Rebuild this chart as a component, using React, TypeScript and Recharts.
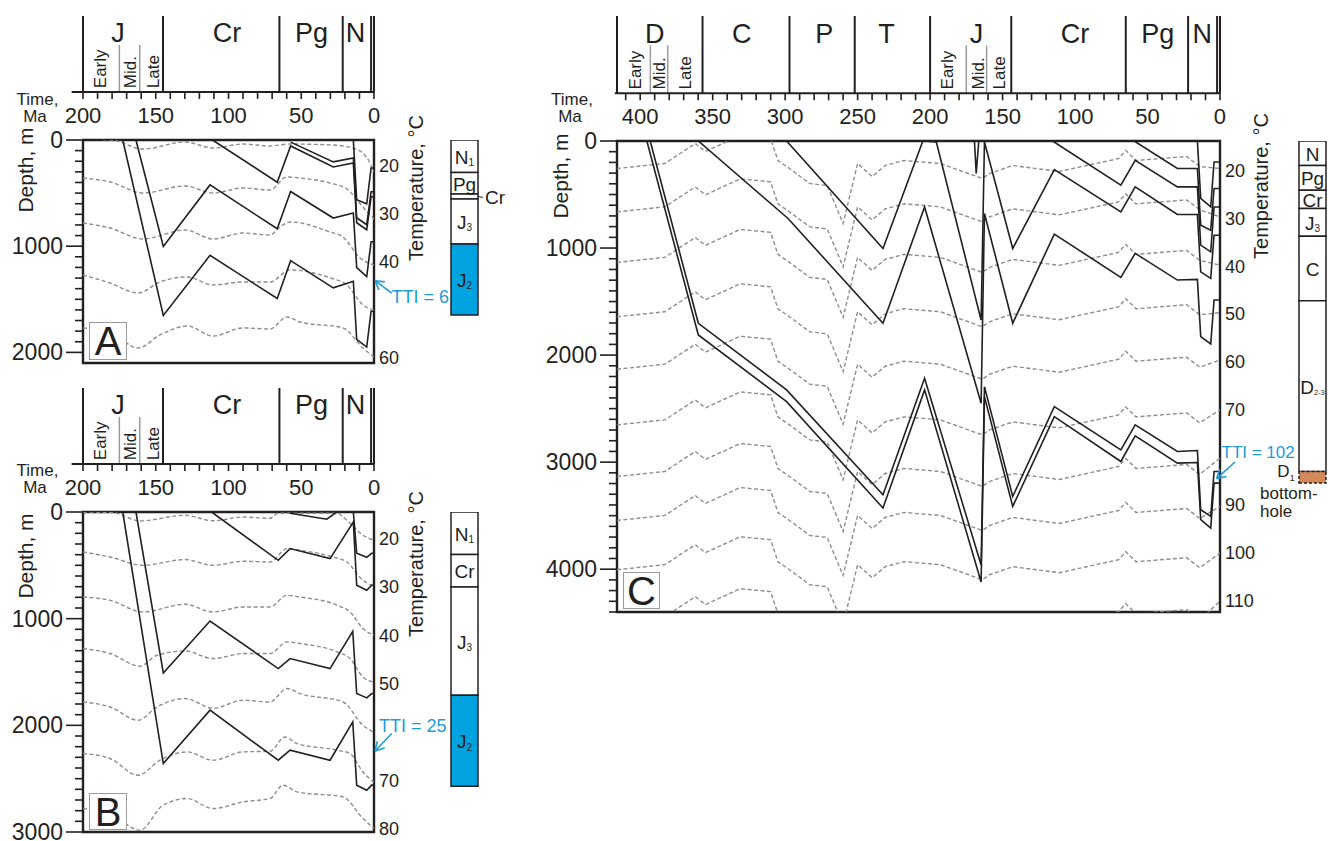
import React from "react";
import {
  ComposedChart,
  Line,
  XAxis,
  YAxis,
  ReferenceLine,
  ReferenceArea,
  Scatter,
  Bar,
  LabelList,
} from "recharts";

type Pt = [number, number];

const FONT = '"Liberation Sans", Arial, Helvetica, sans-serif';
const INK = "#231f20";
const GREY = "#8d8d8d";
const BLUE = "#1e9bd7";

// ---------- geological time scale ----------
const boundsJK = [200, 145, 65, 21.5, 2, 0];
const periodsJK = ["J", "Cr", "Pg", "N"];
const periodAgeJK = [176, 101, 43, 12.7];
const epochBoundsJK = [175, 161];
const epochsJK = ["Early", "Mid.", "Late"];
const epochAgeJK = [188.3, 167.6, 151.5];
const timeLabelsJK = [200, 150, 100, 50, 0];

const boundsC = [416, 357, 297, 252, 200, 144, 65, 22, 2, 0];
const periodsC = ["D", "C", "P", "T", "J", "Cr", "Pg", "N"];
const periodAgeC = [390, 330, 273, 230, 168, 100, 43, 12.2];
const epochBoundsC = [393, 381, 175, 161];
const epochsC = ["Early", "Mid.", "Late", "Early", "Mid.", "Late"];
const epochAgeC = [403.4, 386.7, 368.5, 187.7, 166.8, 152];
const timeLabelsC = [400, 350, 300, 250, 200, 150, 100, 50, 0];

// ---------- panel A: burial curves [age Ma, depth m] ----------
const aHorizon1: Pt[] = [[172.7, 0], [144.8, 1653], [112.7, 1086], [66.5, 1493], [57.3, 1136], [28, 1392], [14.2, 1330], [11.9, 1878], [5, 1950], [2, 1612], [0, 1612]];
const aHorizon2: Pt[] = [[163.6, 0], [144.8, 1002], [112.7, 423], [66.5, 836], [57.3, 485], [28, 735], [14.2, 688], [11.9, 1202], [5, 1286], [2, 958], [0, 958]];
const aHorizon3: Pt[] = [[111, 0], [66.5, 397], [57.3, 56], [28, 254], [14.2, 216], [11.9, 779], [5, 845], [2, 535], [0, 535]];
const aHorizon4: Pt[] = [[57.3, 20], [28, 206], [14.2, 169], [11.9, 732], [5, 798], [2, 488], [0, 488]];
const aHorizon5: Pt[] = [[14.2, 0], [11.9, 563], [5, 601], [2, 263], [0, 263]];

// panel A isotherms 20..60 °C
const aIso20: Pt[] = [[200, -10], [179.4, 2], [158.8, 85], [129.9, 19], [110.7, 75], [90, 38], [71.5, 56], [57.7, 38], [28.2, 47], [14.4, 75], [4.8, 169], [0, 301]];
const aIso30: Pt[] = [[200, 358], [181.4, 395], [158.8, 499], [129.9, 433], [110.7, 499], [90, 452], [71.5, 471], [59.8, 348], [50.9, 358], [30.2, 405], [18.6, 461], [7.6, 631], [0, 744]];
const aIso40: Pt[] = [[200, 782], [181.4, 829], [158.8, 932], [129.9, 847], [110.7, 932], [90, 876], [71.5, 895], [64.6, 819], [57.7, 772], [30.2, 866], [21.3, 913], [9.6, 1111], [0, 1177]];
const aIso50: Pt[] = [[200, 1271], [181.4, 1347], [162.2, 1441], [147.1, 1337], [128.5, 1290], [110.7, 1365], [90, 1337], [71.5, 1337], [57.7, 1224], [30.2, 1299], [18.6, 1365], [7.6, 1554], [0, 1601]];
const aIso60: Pt[] = [[200, 1770], [181.4, 1808], [162.2, 1959], [147.1, 1836], [128.5, 1751], [110.7, 1846], [90, 1770], [71.5, 1780], [59.8, 1667], [50.9, 1714], [21.3, 1770], [7.6, 1959], [0, 2043]];

// ---------- panel B ----------
const bHorizon1: Pt[] = [[172.7, 0], [144.8, 2358], [112.7, 1858], [65.8, 2327], [57.7, 2233], [30.2, 2327], [14.6, 1968], [11.9, 2561], [5, 2608], [1.6, 2561], [0, 2561]];
const bHorizon2: Pt[] = [[163.6, 0], [144.8, 1509], [112.7, 1022], [65.8, 1468], [57.7, 1374], [30.2, 1468], [14.6, 1118], [11.9, 1702], [5, 1743], [1.6, 1702], [0, 1702]];
const bHorizon3: Pt[] = [[111.6, 0], [65.8, 453], [57.7, 343], [30.2, 437], [14.2, 94], [11.9, 687], [5, 734], [1.6, 687], [0, 687]];
const bHorizon4: Pt[] = [[57.7, 12], [32.5, 68], [25.6, 0], [14.2, 0], [11.9, 387], [5, 425], [1.6, 387], [0, 387]];

const bIso20: Pt[] = [[200, 0], [179.4, 6], [160.8, 84], [129.9, 31], [110.7, 82], [90, 47], [71.5, 59], [66, 12], [25.4, 12], [18.6, 78], [7.6, 218], [0, 265]];
const bIso30: Pt[] = [[200, 375], [181.4, 422], [158.8, 500], [129.9, 446], [110.7, 500], [90, 462], [71.5, 469], [59.8, 343], [50.9, 359], [28.2, 422], [18.6, 469], [7.6, 640], [0, 696]];
const bIso40: Pt[] = [[200, 797], [181.4, 828], [158.8, 937], [129.9, 865], [110.7, 937], [90, 890], [71.5, 890], [59.8, 781], [50.9, 797], [25.4, 874], [16.5, 937], [7.6, 1093], [0, 1156]];
const bIso50: Pt[] = [[200, 1280], [181.4, 1327], [160.8, 1446], [149.1, 1343], [129.9, 1303], [110.7, 1374], [90, 1327], [71.5, 1327], [59.8, 1218], [50.9, 1233], [25.4, 1312], [16.5, 1374], [7.6, 1546], [0, 1596]];
const bIso60: Pt[] = [[200, 1781], [181.4, 1828], [162.2, 1952], [149.1, 1828], [129.9, 1749], [110.7, 1840], [90, 1765], [71.5, 1781], [59.8, 1655], [50.9, 1702], [21.3, 1781], [7.6, 1999], [0, 2065]];
const bIso70: Pt[] = [[200, 2264], [181.4, 2311], [162.2, 2468], [147.1, 2327], [128.5, 2249], [110.7, 2327], [90, 2249], [71.5, 2243], [61.2, 2109], [52.9, 2171], [25.4, 2233], [16.5, 2264], [7.6, 2437], [0, 2533]];
const bIso80: Pt[] = [[200, 2780], [181.4, 2827], [160.8, 2983], [145, 2749], [128.5, 2686], [110.7, 2780], [90, 2718], [71.5, 2686], [62.5, 2561], [52.9, 2624], [21.3, 2671], [7.6, 2873], [0, 2967]];

// ---------- panel C ----------
const cD1Base: Pt[] = [[395.4, 0], [359.9, 1812], [299, 2435], [232.5, 3429], [203.8, 2325], [164.8, 4120], [162.5, 2388], [143, 3414], [114.3, 2575], [68.4, 2994], [58.5, 2755], [29.4, 3009], [15.6, 3004], [13.3, 3538], [6.4, 3616], [4.1, 3196], [0, 3196]];
const cD1Top: Pt[] = [[393.1, 0], [359.9, 1703], [299, 2325], [232.5, 3305], [203.8, 2216], [164.8, 3960], [162.5, 2295], [143, 3321], [114.3, 2481], [68.4, 2885], [58.5, 2652], [29.4, 2901], [15.6, 2892], [13.3, 3445], [6.4, 3507], [4.1, 3088], [0, 3088]];
const cCBase: Pt[] = [[359.9, 0], [298, 724], [232.5, 1703], [203.8, 616], [164.8, 2450], [162.5, 677], [143, 1703], [114.3, 870], [68.4, 1274], [58.5, 1050], [29.4, 1299], [15.6, 1293], [13.3, 1828], [6.4, 1896], [4.1, 1486], [0, 1486]];
const cCTop: Pt[] = [[299, 0], [232.5, 1004], [205, 0], [195.7, 9], [164.8, 1673], [162.5, 9], [143, 1004], [114.3, 267], [68.4, 662], [58.5, 429], [29.4, 687], [15.6, 687], [13.3, 1222], [6.4, 1284], [4.1, 880], [0, 880]];
const cJSpike: Pt[] = [[169.4, 0], [168.2, 304], [166.4, 0]];
const cCrBase: Pt[] = [[115.5, 0], [68.4, 413], [58.5, 180], [29.4, 429], [15.6, 429], [13.3, 973], [6.4, 1035], [4.1, 616], [0, 616]];
const cPgBase: Pt[] = [[59.2, 0], [29.4, 257], [15.6, 257], [13.3, 786], [6.4, 833], [4.1, 444], [0, 444]];
const cNBase: Pt[] = [[15.6, 0], [13.3, 537], [6.4, 616], [4.1, 196], [0, 196]];

// isotherms of panel C share one age list
const cIsoAge = [416, 383, 362, 355, 331, 310, 305, 297, 283, 271, 260, 250, 240, 231, 218, 193, 164, 159, 143, 111, 70, 65, 58, 23, 14, 0];
const cIso20 = [257, 210, 24, 98, -51, -23, 182, 257, 397, 416, 770, 210, 332, 229, 182, 210, 350, 304, 229, 285, 164, 89, 182, 145, 238, 257];
const cIso30 = [662, 615, 429, 503, 354, 382, 587, 662, 802, 821, 1175, 615, 737, 634, 587, 615, 755, 709, 634, 690, 569, 494, 587, 550, 643, 709];
const cIso40 = [1134, 1087, 901, 975, 826, 854, 1059, 1134, 1274, 1293, 1647, 1087, 1209, 1106, 1059, 1087, 1227, 1181, 1106, 1162, 1041, 966, 1059, 1022, 1115, 1160];
const cIso50 = [1642, 1595, 1409, 1483, 1334, 1362, 1567, 1642, 1782, 1801, 2155, 1595, 1717, 1614, 1567, 1595, 1735, 1689, 1614, 1670, 1549, 1474, 1567, 1530, 1623, 1604];
const cIso60 = [2132, 2085, 1899, 1973, 1824, 1852, 2057, 2132, 2272, 2291, 2645, 2085, 2207, 2104, 2057, 2085, 2225, 2179, 2104, 2160, 2039, 1964, 2057, 2020, 2113, 2046];
const cIso70 = [2652, 2605, 2419, 2493, 2344, 2372, 2577, 2652, 2792, 2811, 3165, 2605, 2727, 2624, 2577, 2605, 2745, 2699, 2624, 2680, 2559, 2484, 2577, 2540, 2633, 2512];
const cIso80 = [3134, 3087, 2901, 2975, 2826, 2854, 3059, 3134, 3274, 3293, 3647, 3087, 3209, 3106, 3059, 3087, 3227, 3181, 3106, 3162, 3041, 2966, 3059, 3022, 3115, 2962];
const cIso90 = [3545, 3498, 3312, 3386, 3237, 3265, 3470, 3545, 3685, 3704, 4058, 3498, 3620, 3517, 3470, 3498, 3638, 3592, 3517, 3573, 3452, 3377, 3470, 3433, 3526, 3414];
const cIso100 = [4005, 3958, 3772, 3846, 3697, 3725, 3930, 4005, 4145, 4164, 4518, 3958, 4080, 3977, 3930, 3958, 4098, 4052, 3977, 4033, 3912, 3837, 3930, 3893, 3986, 3849];
const cIso110 = [4490, 4443, 4257, 4331, 4182, 4210, 4415, 4490, 4630, 4649, 5003, 4443, 4565, 4462, 4415, 4443, 4583, 4537, 4462, 4518, 4397, 4322, 4415, 4378, 4471, 4300];

// temperature axes
const tempTicksA = [20, 30, 40, 60];
const tempTicksB = [20, 30, 40, 50, 70, 80];
const tempTicksC = [20, 30, 40, 50, 60, 70, 90, 100, 110];

// stratigraphic columns (present-day thickness, m)
const colANames = ["N", "Pg", "Cr", "J", "J"];
const colASubs = ["1", "", "", "3", "2"];
const colAThick = [305, 203, 47, 424, 669];
const colBNames = ["N", "Cr", "J", "J"];
const colBSubs = ["1", "", "3", "2"];
const colBThick = [399, 304, 1015, 853];
const colCNames = ["N", "Pg", "Cr", "J", "C", "D", ""];
const colCSubs = ["", "", "", "3", "", "2-3", ""];
const colCThick = [228, 232, 171, 259, 602, 1596, 108];

// TTI arrows [age, depth]
const arrowA: Pt[][] = [[[-0.7, 1325], [-12.2, 1443]], [[-0.7, 1325], [-7.5, 1336]], [[-0.7, 1325], [-3.4, 1411]]];
const arrowB: Pt[][] = [[[-0.7, 2240], [-12.2, 2077]], [[-0.7, 2240], [-7.3, 2213]], [[-0.7, 2240], [-2.3, 2149]]];
const arrowC: Pt[][] = [[[2.3, 3154], [-10.3, 2999]], [[2.3, 3154], [-4.5, 3134]], [[2.3, 3154], [0.1, 3065]]];

const range = (a: number, b: number, step: number) => {
  const out: number[] = [];
  for (let v = a; v <= b + 1e-9; v += step) out.push(Math.round(v));
  return out;
};
const toRows = (pts: Pt[]) => pts.map(([t, d]) => ({ t, d }));
const zipRows = (ages: number[], depths: number[]) => ages.map((t, i) => ({ t, d: depths[i] }));

// ---------- small renderers ----------
const PeriodLabel = (p: any) => (
  <text x={p.cx} y={p.cy} textAnchor="middle" dominantBaseline="central" fontSize={27} fontFamily={FONT} fill={INK}>
    {p.payload.name}
  </text>
);
const EpochLabel = (p: any) => (
  <text
    x={p.cx}
    y={p.cy}
    transform={`rotate(-90 ${p.cx} ${p.cy})`}
    textAnchor="start"
    dominantBaseline="central"
    fontSize={17}
    fontFamily={FONT}
    fill={INK}
  >
    {p.payload.name}
  </text>
);

function DepthTick(props: any) {
  const { x, y, payload } = props;
  const major = payload.value % 1000 === 0;
  const len = major ? 17 : 8;
  return (
    <g>
      <line x1={x - len} y1={y} x2={x} y2={y} stroke={INK} strokeWidth={1.6} />
      {major && (
        <text x={x - len - 3} y={y} textAnchor="end" dominantBaseline="central" fontSize={23} fontFamily={FONT} fill={INK}>
          {payload.value}
        </text>
      )}
    </g>
  );
}

const layerLabel = (name: string, sub: string, outside: boolean) => (p: any) => {
  if (!name) return null;
  const { x, y, width, height } = p;
  const cy = y + height / 2;
  const cx = outside ? x + width + 7 : x + width / 2;
  const longSub = sub.length > 1;
  return (
    <g>
      {outside && <line x1={x + width} y1={cy} x2={x + width + 5} y2={cy + 1} stroke={INK} strokeWidth={1} />}
      <text
        x={cx}
        y={cy + 1}
        textAnchor={outside ? "start" : "middle"}
        dominantBaseline="central"
        fontSize={19}
        fontFamily={FONT}
        fill={INK}
      >
        {name}
        {sub && (
          <tspan dy={5} fontSize={longSub ? 7.5 : 10}>
            {sub}
          </tspan>
        )}
      </text>
    </g>
  );
};

// ---------- time scale strip ----------
function TimeBar(p: {
  left: number; top: number; width: number; plotLeft: number; plotRight: number; plotH: number;
  tMax: number; axisFrom: number; bounds: number[]; periods: string[]; periodAge: number[];
  epochBounds: number[]; epochs: string[]; epochAge: number[]; labels: number[];
}) {
  const h = 16 + p.plotH + 40;
  const ticks = range(0, Math.floor(p.tMax / 10) * 10, 10);
  const periodPts = p.periods.map((name, i) => ({ t: p.periodAge[i], y: 0.77, name }));
  const epochPts = p.epochs.map((name, i) => ({ t: p.epochAge[i], y: 0.05, name }));
  return (
    <div style={{ position: "absolute", left: p.left, top: p.top, width: p.width, height: h }}>
      <ComposedChart
        width={p.width}
        height={h}
        margin={{ top: 16, right: p.left + p.width - p.plotRight, bottom: 0, left: p.plotLeft - p.left }}
      >
        <XAxis
          xAxisId="t"
          dataKey="t"
          type="number"
          domain={[0, p.tMax]}
          reversed
          allowDataOverflow
          ticks={ticks}
          interval={0}
          tickFormatter={(v: number) => (p.labels.includes(v) ? String(v) : "")}
          tick={{ fontSize: 22, fill: INK, fontFamily: FONT }}
          tickLine={{ stroke: INK, strokeWidth: 1.6 }}
          tickSize={7}
          tickMargin={8}
          axisLine={false}
          height={40}
        />
        <YAxis yAxisId="y" dataKey="y" type="number" domain={[0, 1]} hide />
        {p.bounds.map((b) => (
          <ReferenceLine key={"b" + b} xAxisId="t" yAxisId="y" x={b} stroke={INK} strokeWidth={2} ifOverflow="visible" />
        ))}
        {p.epochBounds.map((b) => (
          <ReferenceLine
            key={"e" + b}
            xAxisId="t"
            yAxisId="y"
            segment={[{ x: b, y: 0 }, { x: b, y: 0.62 }]}
            stroke="#9b9b9b"
            strokeWidth={1.5}
          />
        ))}
        <ReferenceLine
          xAxisId="t"
          yAxisId="y"
          segment={[{ x: p.axisFrom, y: 0 }, { x: 0, y: 0 }]}
          stroke={INK}
          strokeWidth={2}
          ifOverflow="visible"
        />
        <Scatter xAxisId="t" yAxisId="y" data={periodPts} shape={PeriodLabel} isAnimationActive={false} />
        <Scatter xAxisId="t" yAxisId="y" data={epochPts} shape={EpochLabel} isAnimationActive={false} />
      </ComposedChart>
    </div>
  );
}

// ---------- burial history plot ----------
function BurialPanel(p: {
  left: number; width: number; plotLeft: number; plotRight: number; plotTop: number; plotBottom: number;
  tMax: number; dMax: number; dTickMax: number; tempDomain: [number, number]; tempTicks: number[];
  curves: Pt[][]; isotherms: { t: number; d: number }[][]; smoothIso: boolean; arrow: Pt[][];
}) {
  const h = p.plotBottom - p.plotTop + 40;
  return (
    <div style={{ position: "absolute", left: p.left, top: p.plotTop - 20, width: p.width, height: h }}>
      <ComposedChart width={p.width} height={h} margin={{ top: 20, right: 0, bottom: 20, left: 0 }}>
        <XAxis xAxisId="t" dataKey="t" type="number" domain={[0, p.tMax]} reversed allowDataOverflow hide />
        <YAxis
          yAxisId="d"
          type="number"
          domain={[0, p.dMax]}
          reversed
          allowDataOverflow
          ticks={range(0, p.dTickMax, 100)}
          interval={0}
          tick={DepthTick}
          tickSize={0}
          tickMargin={0}
          tickLine={false}
          axisLine={false}
          width={p.plotLeft - p.left}
        />
        <YAxis
          yAxisId="T"
          orientation="right"
          type="number"
          domain={p.tempDomain}
          reversed
          allowDataOverflow
          ticks={p.tempTicks}
          interval={0}
          tick={{ fontSize: 18, fill: INK, fontFamily: FONT }}
          tickSize={0}
          tickMargin={5}
          tickLine={false}
          axisLine={false}
          width={p.left + p.width - p.plotRight}
        />
        <Line
          xAxisId="t"
          yAxisId="T"
          data={[{ t: p.tMax, T: p.tempDomain[0] }, { t: 0, T: p.tempDomain[1] }]}
          dataKey="T"
          stroke="none"
          dot={false}
          isAnimationActive={false}
        />
        {p.isotherms.map((iso, i) => (
          <Line
            key={"iso" + i}
            xAxisId="t"
            yAxisId="d"
            data={iso}
            dataKey="d"
            type={p.smoothIso ? "monotone" : "linear"}
            stroke={GREY}
            strokeWidth={1.4}
            strokeDasharray="4 2.5"
            dot={false}
            isAnimationActive={false}
          />
        ))}
        {p.curves.map((c, i) => (
          <Line
            key={"h" + i}
            xAxisId="t"
            yAxisId="d"
            data={toRows(c)}
            dataKey="d"
            type="linear"
            stroke={INK}
            strokeWidth={1.6}
            dot={false}
            isAnimationActive={false}
          />
        ))}
        <ReferenceArea
          xAxisId="t"
          yAxisId="d"
          x1={p.tMax}
          x2={0}
          y1={0}
          y2={p.dMax}
          fill="none"
          fillOpacity={0}
          stroke={INK}
          strokeWidth={2.4}
          ifOverflow="visible"
        />
        {p.arrow.map((seg, i) => (
          <ReferenceLine
            key={"a" + i}
            xAxisId="t"
            yAxisId="d"
            segment={[{ x: seg[0][0], y: seg[0][1] }, { x: seg[1][0], y: seg[1][1] }]}
            stroke={BLUE}
            strokeWidth={1.6}
            ifOverflow="visible"
          />
        ))}
      </ComposedChart>
    </div>
  );
}

// ---------- stratigraphic column ----------
function StratColumn(p: {
  colLeft: number; colWidth: number; rightPad: number; plotTop: number; plotBottom: number; dMax: number;
  thick: number[]; names: string[]; subs: string[]; fills: string[]; outside: boolean[]; dashed: boolean[];
}) {
  const h = p.plotBottom - p.plotTop + 40;
  const w = 5 + p.colWidth + p.rightPad;
  const row: Record<string, number | string> = { name: "col" };
  p.thick.forEach((v, i) => {
    row["L" + i] = v;
  });
  return (
    <div style={{ position: "absolute", left: p.colLeft - 5, top: p.plotTop - 20, width: w, height: h }}>
      <ComposedChart
        width={w}
        height={h}
        data={[row]}
        margin={{ top: 20, right: p.rightPad, bottom: 20, left: 5 }}
        barCategoryGap={0}
        barGap={0}
      >
        <XAxis dataKey="name" type="category" hide />
        <YAxis type="number" domain={[0, p.dMax]} reversed allowDataOverflow hide />
        {p.thick.map((_, i) => (
          <Bar
            key={i}
            dataKey={"L" + i}
            stackId="s"
            fill={p.fills[i]}
            stroke={INK}
            strokeWidth={1.5}
            strokeDasharray={p.dashed[i] ? "3 2" : undefined}
            isAnimationActive={false}
          >
            <LabelList dataKey={"L" + i} content={layerLabel(p.names[i], p.subs[i], p.outside[i])} />
          </Bar>
        ))}
      </ComposedChart>
    </div>
  );
}

// ---------- plain text annotations ----------
function Txt(p: { x: number; y: number; size: number; anchor?: string; color?: string; children: React.ReactNode }) {
  const tx = p.anchor === "start" ? "0" : p.anchor === "end" ? "-100%" : "-50%";
  return (
    <div
      style={{
        position: "absolute",
        left: p.x,
        top: p.y,
        transform: `translate(${tx},-50%)`,
        fontSize: p.size,
        lineHeight: 0.9,
        whiteSpace: "nowrap",
        color: p.color || INK,
        fontFamily: FONT,
      }}
    >
      {p.children}
    </div>
  );
}
function VTxt(p: { x: number; y: number; size: number; children: React.ReactNode }) {
  return (
    <div
      style={{
        position: "absolute",
        left: p.x,
        top: p.y,
        transform: "translate(-50%,-50%) rotate(-90deg)",
        fontSize: p.size,
        lineHeight: 1,
        whiteSpace: "nowrap",
        color: INK,
        fontFamily: FONT,
      }}
    >
      {p.children}
    </div>
  );
}
function PanelTag(p: { x: number; y: number; w: number; h: number; text: string }) {
  return (
    <div
      style={{
        position: "absolute",
        left: p.x,
        top: p.y,
        width: p.w,
        height: p.h,
        border: "1px solid #9a9a9a",
        background: "#fff",
        boxSizing: "border-box",
        display: "flex",
        alignItems: "center",
        justifyContent: "center",
        fontSize: 40,
        lineHeight: 1,
        fontFamily: FONT,
        color: INK,
      }}
    >
      {p.text}
    </div>
  );
}

export default function App() {
  const isoA = [aIso20, aIso30, aIso40, aIso50, aIso60].map(toRows);
  const isoB = [bIso20, bIso30, bIso40, bIso50, bIso60, bIso70, bIso80].map(toRows);
  const isoC = [cIso20, cIso30, cIso40, cIso50, cIso60, cIso70, cIso80, cIso90, cIso100, cIso110].map((d) =>
    zipRows(cIsoAge, d)
  );
  const J2 = "#00a3e0";
  return (
    <div
      style={{
        position: "absolute",
        left: 0,
        top: 0,
        width: 1328,
        height: 841,
        overflow: "hidden",
        background: "#fff",
        fontFamily: FONT,
      }}
    >
      {/* Panel A */}
      <TimeBar
        left={0} top={0} width={440} plotLeft={83} plotRight={374} plotH={76} tMax={200} axisFrom={207.8}
        bounds={boundsJK} periods={periodsJK} periodAge={periodAgeJK}
        epochBounds={epochBoundsJK} epochs={epochsJK} epochAge={epochAgeJK} labels={timeLabelsJK}
      />
      <BurialPanel
        left={0} width={440} plotLeft={83} plotRight={374} plotTop={140} plotBottom={363}
        tMax={200} dMax={2100} dTickMax={2000} tempDomain={[14.58, 61.04]} tempTicks={tempTicksA}
        curves={[aHorizon1, aHorizon2, aHorizon3, aHorizon4, aHorizon5]} isotherms={isoA} smoothIso arrow={arrowA}
      />
      <StratColumn
        colLeft={451} colWidth={26.5} rightPad={45} plotTop={140} plotBottom={363} dMax={2100}
        thick={colAThick} names={colANames} subs={colASubs}
        fills={["#fff", "#fff", "#fff", "#fff", J2]} outside={[false, false, true, false, false]}
        dashed={[false, false, false, false, false]}
      />

      {/* Panel B */}
      <TimeBar
        left={0} top={372.3} width={440} plotLeft={83} plotRight={374} plotH={76} tMax={200} axisFrom={207.8}
        bounds={boundsJK} periods={periodsJK} periodAge={periodAgeJK}
        epochBounds={epochBoundsJK} epochs={epochsJK} epochAge={epochAgeJK} labels={timeLabelsJK}
      />
      <BurialPanel
        left={0} width={440} plotLeft={83} plotRight={374} plotTop={511.7} plotBottom={831.7}
        tMax={200} dMax={3000} dTickMax={3000} tempDomain={[14.5, 80.7]} tempTicks={tempTicksB}
        curves={[bHorizon1, bHorizon2, bHorizon3, bHorizon4]} isotherms={isoB} smoothIso arrow={arrowB}
      />
      <StratColumn
        colLeft={451} colWidth={26.5} rightPad={45} plotTop={511.7} plotBottom={831.7} dMax={3000}
        thick={colBThick} names={colBNames} subs={colBSubs}
        fills={["#fff", "#fff", "#fff", J2]} outside={[false, false, false, false]}
        dashed={[false, false, false, false]}
      />

      {/* Panel C */}
      <TimeBar
        left={540} top={0} width={720} plotLeft={617} plotRight={1220} plotH={77.3} tMax={416} axisFrom={417.5}
        bounds={boundsC} periods={periodsC} periodAge={periodAgeC}
        epochBounds={epochBoundsC} epochs={epochsC} epochAge={epochAgeC} labels={timeLabelsC}
      />
      <BurialPanel
        left={540} width={720} plotLeft={617} plotRight={1220} plotTop={140.7} plotBottom={611.7}
        tMax={416} dMax={4400} dTickMax={4400} tempDomain={[13.71, 112.45]} tempTicks={tempTicksC}
        curves={[cD1Base, cD1Top, cCBase, cCTop, cJSpike, cCrBase, cPgBase, cNBase]} isotherms={isoC}
        smoothIso={false} arrow={arrowC}
      />
      <StratColumn
        colLeft={1299.3} colWidth={26.7} rightPad={2} plotTop={140.7} plotBottom={611.7} dMax={4400}
        thick={colCThick} names={colCNames} subs={colCSubs}
        fills={["#fff", "#fff", "#fff", "#fff", "#fff", "#fff", "#d4895b"]}
        outside={[false, false, false, false, false, false, false]}
        dashed={[false, false, false, false, false, false, true]}
      />

      {/* axis titles */}
      <Txt x={37.5} y={100} size={17}>Time,</Txt>
      <Txt x={35} y={117} size={17}>Ma</Txt>
      <Txt x={37.5} y={471} size={17}>Time,</Txt>
      <Txt x={35} y={488} size={17}>Ma</Txt>
      <Txt x={572} y={100} size={17}>Time,</Txt>
      <Txt x={570} y={117} size={17}>Ma</Txt>

      <VTxt x={25} y={170} size={21}>Depth, m</VTxt>
      <VTxt x={25} y={556} size={21}>Depth, m</VTxt>
      <VTxt x={560} y={176} size={21}>Depth, m</VTxt>

      <VTxt x={416} y={188} size={20}>Temperature, °C</VTxt>
      <VTxt x={416} y={564} size={20}>Temperature, °C</VTxt>
      <VTxt x={1261} y={186} size={20}>Temperature, °C</VTxt>

      {/* TTI labels */}
      <Txt x={391.5} y={296.5} size={18} anchor="start" color={BLUE}>TTI = 6</Txt>
      <Txt x={379} y={726} size={18} anchor="start" color={BLUE}>TTI = 25</Txt>
      <Txt x={1221.5} y={453} size={17} anchor="start" color={BLUE}>TTI = 102</Txt>

      {/* column notes for C */}
      <Txt x={1286} y={473} size={17}>
        D<span style={{ fontSize: 9, verticalAlign: "sub" }}>1</span>
      </Txt>
      <Txt x={1260} y={494} size={17} anchor="start">bottom-</Txt>
      <Txt x={1260} y={512} size={17} anchor="start">hole</Txt>

      {/* panel tags */}
      <PanelTag x={89} y={322} w={38} h={38} text="A" />
      <PanelTag x={89} y={793} w={38} h={37} text="B" />
      <PanelTag x={623} y={572} w={37} h={37} text="C" />
    </div>
  );
}
